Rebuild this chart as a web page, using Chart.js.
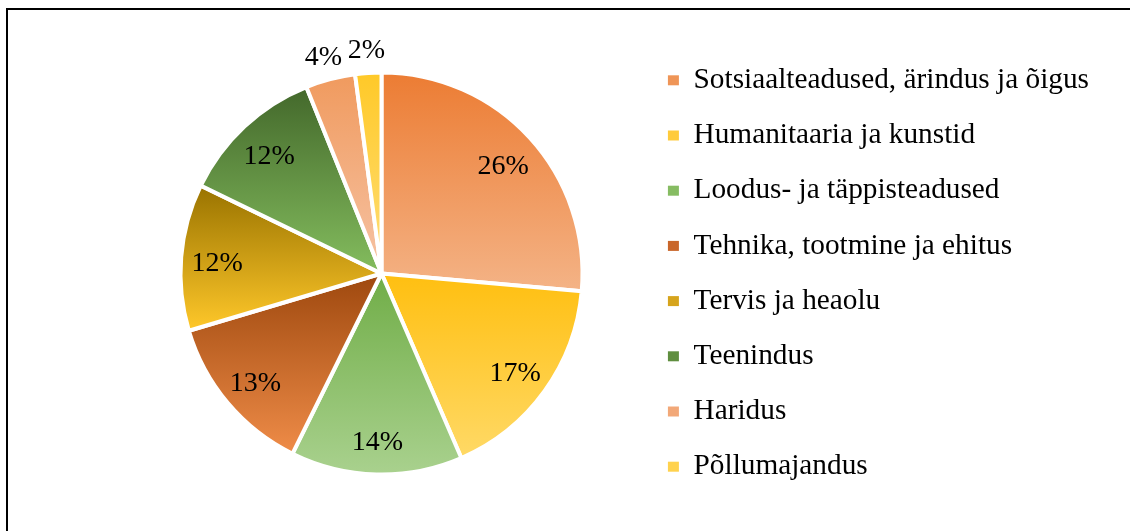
<!DOCTYPE html>
<html>
<head>
<meta charset="utf-8">
<script src="https://cdn.jsdelivr.net/npm/chart.js@4.4.1/dist/chart.umd.min.js"></script>
<style>
  html, body { margin: 0; padding: 0; background: #ffffff; }
  #wrap { position: relative; width: 1130px; height: 531px; overflow: hidden; }
  #frame { position: absolute; left: 6px; top: 8px; width: 1200px; height: 600px;
           border-left: 2px solid #000; border-top: 2px solid #000; pointer-events: none; }
  canvas { position: absolute; left: 0; top: 0; }
</style>
</head>
<body>
<div id="wrap">
  <canvas id="chart" width="1130" height="531"></canvas>
  <div id="frame"></div>
</div>
<script>
// ---- data ----
const categories = [
  "Sotsiaalteadused, ärindus ja õigus",
  "Humanitaaria ja kunstid",
  "Loodus- ja täppisteadused",
  "Tehnika, tootmine ja ehitus",
  "Tervis ja heaolu",
  "Teenindus",
  "Haridus",
  "Põllumajandus"
];
const shares = [26.4, 17.1, 13.8, 13.1, 11.8, 11.7, 4.0, 2.1];

// ---- styles ----
const topColors    = ["#EC7C33", "#FFBF10", "#70AD47", "#9E480E", "#997300", "#43682B", "#F09A5E", "#FFC928"];
const bottomColors = ["#F4B386", "#FFD966", "#A9D18E", "#EF8C48", "#FFC82A", "#84BD5E", "#F6C3A4", "#FFDE78"];
const legendColors = ["#EF9557", "#FFCB3C", "#86BC62", "#C9662A", "#D6A41C", "#5F8E3F", "#F2A878", "#FFD24E"];

const FONT = "'Liberation Serif', 'Times New Roman', serif";
const PIE_RADIUS = 201;

const total = shares.reduce((a, b) => a + b, 0);

function sliceGradient(ctx) {
  const chart = ctx.chart;
  const area = chart.chartArea;
  const i = ctx.dataIndex;
  if (!area || i === undefined) return legendColors[i] || '#ccc';
  const cx = (area.left + area.right) / 2;
  const cy = (area.top + area.bottom) / 2;
  let cum = 0;
  for (let k = 0; k < i; k++) cum += shares[k];
  const a0 = -Math.PI / 2 + 2 * Math.PI * cum / total;
  const a1 = a0 + 2 * Math.PI * shares[i] / total;
  const ys = [cy, cy + PIE_RADIUS * Math.sin(a0), cy + PIE_RADIUS * Math.sin(a1)];
  [-Math.PI / 2, Math.PI / 2, 3 * Math.PI / 2].forEach(k => {
    if (k > a0 && k < a1) ys.push(cy + PIE_RADIUS * Math.sin(k));
  });
  const y0 = Math.min(...ys), y1 = Math.max(...ys);
  const g = chart.ctx.createLinearGradient(0, y0, 0, y1 + 0.01);
  g.addColorStop(0, topColors[i]);
  g.addColorStop(1, bottomColors[i]);
  return g;
}

const pctLabels = {
  id: 'pctLabels',
  afterDatasetsDraw(chart) {
    const ctx = chart.ctx;
    const meta = chart.getDatasetMeta(0);
    ctx.save();
    ctx.font = "28px " + FONT;
    ctx.fillStyle = "#000";
    ctx.textAlign = "center";
    ctx.textBaseline = "middle";
    meta.data.forEach((arc, i) => {
      const p = arc.getProps(['x', 'y', 'startAngle', 'endAngle', 'outerRadius'], true);
      const mid = (p.startAngle + p.endAngle) / 2;
      const pct = Math.round(shares[i] / total * 100);
      const text = pct + "%";
      let px, py;
      if (pct >= 5) {
        const rr = p.outerRadius * 0.82;
        px = p.x + Math.cos(mid) * rr;
        py = p.y + Math.sin(mid) * rr + 4;
      } else {
        const w = ctx.measureText(text).width;
        const h = 28;
        const rr = p.outerRadius + 8;
        px = p.x + Math.cos(mid) * (rr + w / 2);
        py = p.y + Math.sin(mid) * (rr + h / 2);
      }
      ctx.fillText(text, px, py);
    });
    ctx.restore();
  }
};

new Chart(document.getElementById('chart'), {
  type: 'pie',
  data: {
    labels: categories,
    datasets: [{
      data: shares,
      backgroundColor: sliceGradient,
      borderColor: '#ffffff',
      borderWidth: 4,
      radius: PIE_RADIUS
    }]
  },
  options: {
    responsive: false,
    animation: false,
    layout: { padding: { left: 121, right: 31, top: 16, bottom: 0 } },
    plugins: {
      tooltip: { enabled: false },
      legend: {
        position: 'right',
        align: 'center',
        labels: {
          font: { family: FONT, size: 29.3 },
          color: '#000',
          boxWidth: 11,
          boxHeight: 10,
          padding: 25.9,
          generateLabels(chart) {
            return categories.map((c, i) => ({
              text: c,
              fillStyle: legendColors[i],
              strokeStyle: 'rgba(0,0,0,0)',
              lineWidth: 0,
              hidden: false,
              index: i
            }));
          }
        }
      }
    }
  },
  plugins: [pctLabels]
});
</script>
</body>
</html>
